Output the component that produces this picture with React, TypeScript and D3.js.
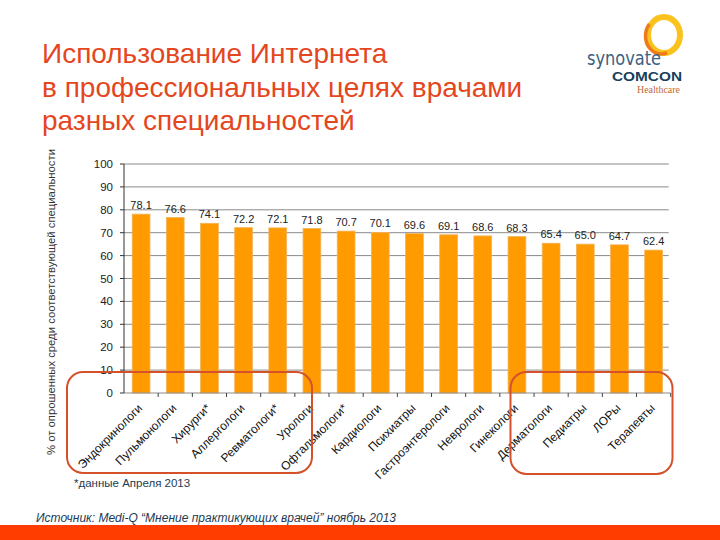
import React from "react";
import * as d3 from "d3";

const categories = [
  "Эндокринологи", "Пульмонологи", "Хирурги*", "Аллергологи", "Ревматологи*", "Урологи",
  "Офтальмологи*", "Кардиологи", "Психиатры", "Гастроэнтерологи", "Неврологи", "Гинекологи",
  "Дерматологи", "Педиатры", "ЛОРы", "Терапевты",
];
const values = [78.1, 76.6, 74.1, 72.2, 72.1, 71.8, 70.7, 70.1, 69.6, 69.1, 68.6, 68.3, 65.4, 65.0, 64.7, 62.4];
const yTicks = [0, 10, 20, 30, 40, 50, 60, 70, 80, 90, 100];
const titleLines = ["Использование Интернета", "в профессиональных целях врачами", "разных специальностей"];
const yAxisTitle = "% от опрошенных среди соответствующей специальности";
const footnote = "*данные Апреля 2013";
const source = "Источник: Medi-Q “Мнение практикующих врачей” ноябрь 2013";

const FONT = "'Liberation Sans', Arial, sans-serif";

export default function App() {
  const left = 124, right = 670.7, top = 164, bottom = 393;
  const x = d3.scaleBand<string>().domain(categories).range([left, right]).paddingInner(0.48).paddingOuter(0.24);
  const xb = d3.scaleBand<string>().domain(categories).range([left, right]);
  const y = d3.scaleLinear().domain([0, 100]).range([bottom, top]);

  return (
    <svg width={720} height={540} style={{ position: "absolute", left: 0, top: 0, background: "#fff" }}>
      <rect x={0} y={0} width={720} height={540} fill="#fff" />
      {/* title */}
      {titleLines.map((t, i) => (
        <text key={i} x={42} y={63 + i * 33.5} fontFamily={FONT} fontSize={28} fill="#E4461E">{t}</text>
      ))}
      {/* logo */}
      <g>
        <ellipse cx={664} cy={35} rx={16} ry={18} fill="none" stroke="#F9C21C" strokeWidth={6} />
        <ellipse cx={661} cy={36} rx={15.5} ry={18} fill="none" stroke="#EE7A1C" strokeWidth={3.5} strokeDasharray="45 80" strokeDashoffset={-20} />
        <text x={587} y={65} fontFamily="'DejaVu Sans', sans-serif" fontSize={20} fill="#3A6283" textLength={74} lengthAdjust="spacingAndGlyphs">synovate</text>
        <text x={612} y={81} fontFamily={FONT} fontWeight="bold" fontSize={12.5} fill="#163F5C" textLength={70} lengthAdjust="spacingAndGlyphs">COMCON</text>
        <text x={637} y={93} fontFamily="'Liberation Serif', serif" fontSize={10} fill="#C26A36" textLength={43} lengthAdjust="spacingAndGlyphs">Healthcare</text>
      </g>
      {/* gridlines */}
      {yTicks.filter(t => t > 0).map(t => (
        <line key={t} x1={left} x2={right - 2} y1={y(t)} y2={y(t)} stroke="#8a8a8a" strokeWidth={1} />
      ))}
      {/* bars */}
      {categories.map((c, i) => (
        <g key={c}>
          <rect x={x(c)!} y={y(values[i])} width={x.bandwidth()} height={bottom - y(values[i])} fill="#FF9A00" stroke="#F2B45A" strokeWidth={0.8} />
          <text x={x(c)! + x.bandwidth() / 2} y={y(values[i]) - 5} textAnchor="middle" fontFamily={FONT} fontSize={11} fill="#222">{values[i].toFixed(1)}</text>
        </g>
      ))}
      {/* x axis */}
      <line x1={left} x2={right} y1={bottom} y2={bottom} stroke="#8a8a8a" />
      {categories.map((c, i) => (
        <line key={"t" + i} x1={xb(c)! + xb.bandwidth()} x2={xb(c)! + xb.bandwidth()} y1={bottom} y2={bottom + 4} stroke="#444" />
      ))}
      {categories.map(c => {
        const cx = xb(c)! + xb.bandwidth() / 2;
        return (
          <text key={"l" + c} transform={`translate(${cx + 2},${bottom + 16}) rotate(-45)`} textAnchor="end" fontFamily={FONT} fontSize={12} fill="#111">{c}</text>
        );
      })}
      {/* y axis */}
      <line x1={left} x2={left} y1={top} y2={bottom} stroke="#333" />
      {yTicks.map(t => (
        <g key={"y" + t}>
          <line x1={left - 4} x2={left} y1={y(t)} y2={y(t)} stroke="#333" />
          <text x={113} y={y(t) + 4} textAnchor="end" fontFamily={FONT} fontSize={11.5} fill="#222">{t}</text>
        </g>
      ))}
      <text transform={`translate(55,302) rotate(-90)`} textAnchor="middle" fontFamily={FONT} fontSize={11.5} fill="#333" textLength={306} lengthAdjust="spacingAndGlyphs">{yAxisTitle}</text>
      {/* highlight boxes */}
      <rect x={67} y={372} width={245} height={101} rx={16} fill="none" stroke="#D4512A" strokeWidth={2} />
      <rect x={510.5} y={372} width={162} height={102} rx={16} fill="none" stroke="#D4512A" strokeWidth={2} />
      {/* notes */}
      <text x={74} y={487} fontFamily={FONT} fontSize={11.5} fill="#1E3A52">{footnote}</text>
      <text x={36} y={522} fontFamily={FONT} fontSize={12} fontStyle="italic" fill="#1E3A52" textLength={360} lengthAdjust="spacingAndGlyphs">{source}</text>
      <rect x={0} y={525} width={720} height={15} fill="#FF3D00" />
    </svg>
  );
}
